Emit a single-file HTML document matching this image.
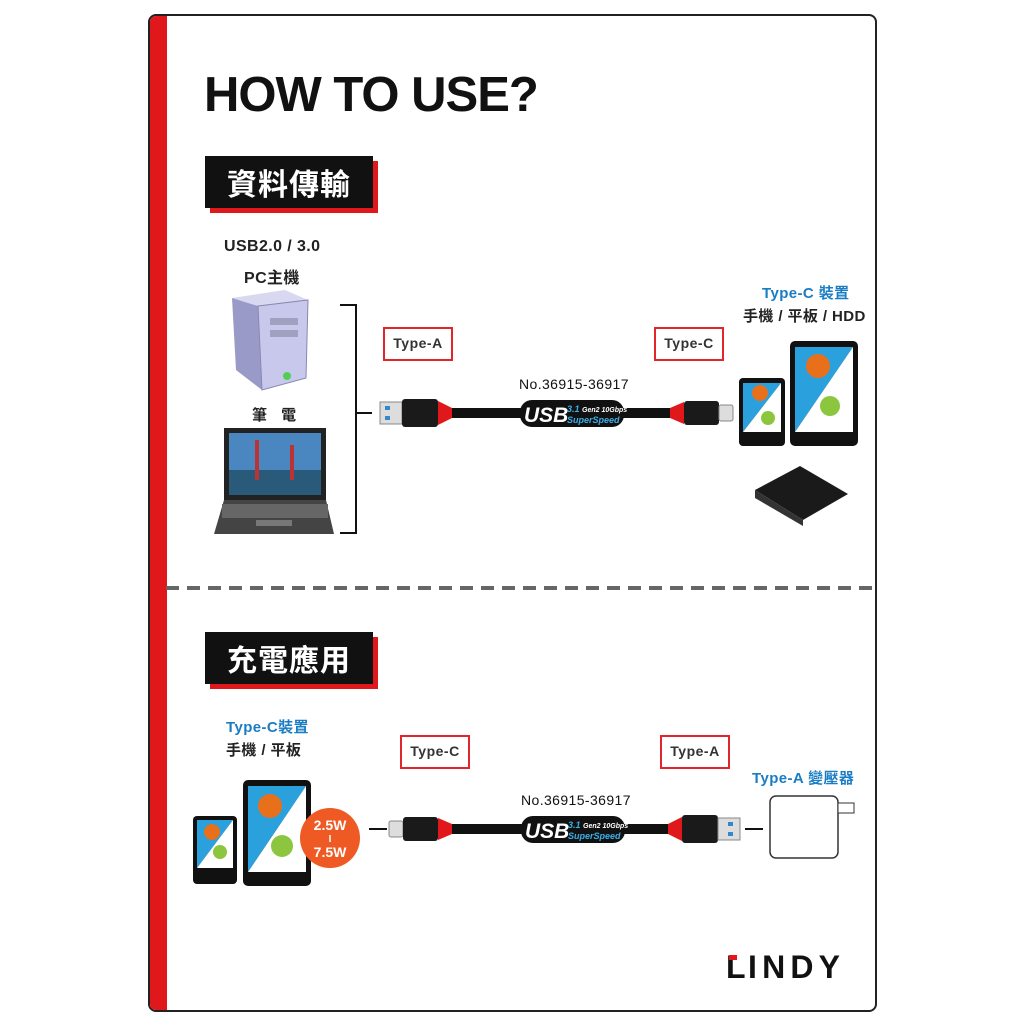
<!DOCTYPE html>
<html><head><meta charset="utf-8"><style>
body{margin:0;width:1024px;height:1024px;background:#fff;position:relative;overflow:hidden;font-family:"Liberation Sans","Noto Sans CJK TC",sans-serif;}
.a{position:absolute}
.lbl{position:absolute;background:#111;color:#fff;font-weight:bold;font-size:30px;box-shadow:5px 5px 0 #e0181b;text-align:center;line-height:52px;font-family:"Noto Sans CJK TC",sans-serif;letter-spacing:1px}
.t{position:absolute;font-weight:bold;font-size:15px;color:#222;font-family:"Liberation Sans","Noto Sans CJK TC",sans-serif;white-space:nowrap;letter-spacing:0.4px}
.box{position:absolute;border:2px solid #e0262a;font-weight:bold;font-size:14px;color:#333;text-align:center;line-height:28px;letter-spacing:0.5px}
.blue{color:#1a7dc3}
</style></head><body>
<div class="a" style="left:148px;top:14px;width:725px;height:994px;border:2px solid #222;border-radius:8px;overflow:hidden">
 <div class="a" style="left:0;top:0;width:17px;height:100%;background:#e0181b"></div>
</div>
<div class="a" style="left:204px;top:67px;font-size:49px;font-weight:900;color:#111;letter-spacing:-1px">HOW TO USE?</div>
<div class="lbl" style="left:205px;top:156px;width:168px;height:52px">資料傳輸</div>
<div class="lbl" style="left:205px;top:632px;width:168px;height:52px">充電應用</div>
<div class="a" style="left:166px;top:586px;width:706px;height:4px;background:repeating-linear-gradient(90deg,#666 0 13px,transparent 13px 21px)"></div>

<div class="t" style="left:224px;top:238px;font-size:16px">USB2.0 / 3.0</div>
<div class="t" style="left:244px;top:264px;font-size:16px">PC主機</div>
<div class="t" style="left:252px;top:404px">筆&nbsp;&nbsp;&nbsp;電</div>
<div class="t blue" style="left:762px;top:282px">Type-C 裝置</div>
<div class="t" style="left:743px;top:305px">手機 / 平板 / HDD</div>
<div class="box" style="left:383px;top:327px;width:66px;height:30px">Type-A</div>
<div class="box" style="left:654px;top:327px;width:66px;height:30px">Type-C</div>
<div class="t" style="left:519px;top:376px;font-weight:normal;font-size:14px;color:#111">No.36915-36917</div>

<div class="t blue" style="left:226px;top:716px">Type-C裝置</div>
<div class="t" style="left:226px;top:739px">手機 / 平板</div>
<div class="box" style="left:400px;top:735px;width:66px;height:30px">Type-C</div>
<div class="box" style="left:660px;top:735px;width:66px;height:30px">Type-A</div>
<div class="t blue" style="left:752px;top:767px">Type-A 變壓器</div>
<div class="t" style="left:521px;top:792px;font-weight:normal;font-size:14px;color:#111">No.36915-36917</div>

<svg class="a" style="left:0;top:0" width="1024" height="1024">
 <path d="M340 305 H356 V533 H340" fill="none" stroke="#111" stroke-width="2"/>
 <line x1="356" y1="413" x2="372" y2="413" stroke="#111" stroke-width="2"/>
 <polygon points="232,298 285,290 308,300 258,306" fill="#d8d8f0"/>
 <polygon points="232,298 258,306 262,390 236,370" fill="#9a9ac8"/>
 <polygon points="258,306 308,300 306,378 262,390" fill="#c8c8ec" stroke="#8888b0"/>
 <rect x="270" y="318" width="28" height="7" fill="#a0a0c0"/><rect x="270" y="330" width="28" height="7" fill="#a0a0c0"/>
 <circle cx="287" cy="376" r="4" fill="#5c5"/>
 <rect x="224" y="428" width="102" height="72" fill="#222"/>
 <rect x="229" y="433" width="92" height="62" fill="#4a86c0"/>
 <rect x="229" y="470" width="92" height="25" fill="#2a5a7a"/>
 <rect x="255" y="440" width="4" height="40" fill="#b33"/><rect x="290" y="445" width="4" height="35" fill="#b33"/>
 <polygon points="224,500 326,500 334,534 214,534" fill="#444"/>
 <rect x="222" y="504" width="106" height="14" fill="#666"/>
 <rect x="256" y="520" width="36" height="6" fill="#777"/>
 <rect x="380" y="402" width="22" height="22" fill="#ddd" stroke="#888"/>
 <rect x="385" y="406" width="5" height="4" fill="#38c"/><rect x="385" y="416" width="5" height="4" fill="#38c"/>
 <rect x="402" y="399" width="36" height="28" rx="3" fill="#1a1a1a"/>
 <polygon points="438,401 452,408 452,418 438,425" fill="#e0181b"/>
 <rect x="452" y="408" width="218" height="10" fill="#111"/>
 <rect x="520" y="400" width="104" height="27" rx="12" fill="#111"/>
 <text x="524" y="422" font-family="Liberation Sans" font-weight="bold" font-style="italic" font-size="21" fill="#fff">USB</text>
 <text x="567" y="412" font-family="Liberation Sans" font-weight="bold" font-style="italic" font-size="9" fill="#3ab0e8">3.1 <tspan fill="#fff" font-size="7">Gen2 10Gbps</tspan></text>
 <text x="567" y="423" font-family="Liberation Sans" font-weight="bold" font-style="italic" font-size="9" fill="#3ab0e8">SuperSpeed</text>
 <polygon points="670,408 684,402 684,424 670,418" fill="#e0181b"/>
 <rect x="684" y="401" width="35" height="24" rx="3" fill="#1a1a1a"/>
 <rect x="719" y="405" width="14" height="16" rx="2" fill="#ddd" stroke="#888"/>
 <line x1="369" y1="829" x2="387" y2="829" stroke="#111" stroke-width="2"/>
 <rect x="389" y="821" width="14" height="16" rx="2" fill="#ddd" stroke="#888"/>
 <rect x="403" y="817" width="35" height="24" rx="3" fill="#1a1a1a"/>
 <polygon points="438,818 452,824 452,834 438,840" fill="#e0181b"/>
 <rect x="452" y="824" width="216" height="10" fill="#111"/>
 <rect x="521" y="816" width="104" height="27" rx="12" fill="#111"/>
 <text x="525" y="838" font-family="Liberation Sans" font-weight="bold" font-style="italic" font-size="21" fill="#fff">USB</text>
 <text x="568" y="828" font-family="Liberation Sans" font-weight="bold" font-style="italic" font-size="9" fill="#3ab0e8">3.1 <tspan fill="#fff" font-size="7">Gen2 10Gbps</tspan></text>
 <text x="568" y="839" font-family="Liberation Sans" font-weight="bold" font-style="italic" font-size="9" fill="#3ab0e8">SuperSpeed</text>
 <polygon points="668,824 682,817 682,841 668,834" fill="#e0181b"/>
 <rect x="682" y="815" width="36" height="28" rx="3" fill="#1a1a1a"/>
 <rect x="718" y="818" width="22" height="22" fill="#ddd" stroke="#888"/>
 <rect x="728" y="822" width="5" height="4" fill="#38c"/><rect x="728" y="832" width="5" height="4" fill="#38c"/>
 <line x1="745" y1="829" x2="763" y2="829" stroke="#111" stroke-width="2"/>
 <g>
  <rect x="739" y="378" width="46" height="68" rx="4" fill="#111"/>
  <polygon points="743,383 781,383 743,432" fill="#2aa0dc"/><polygon points="781,383 781,432 743,432" fill="#fff"/>
  <rect x="790" y="341" width="68" height="105" rx="5" fill="#111"/>
  <polygon points="795,347 853,347 795,432" fill="#2aa0dc"/><polygon points="853,347 853,432 795,432" fill="#fff"/>
  <circle cx="818" cy="366" r="12" fill="#e8701a"/><circle cx="830" cy="406" r="10" fill="#8cc63f"/>
  <circle cx="760" cy="393" r="8" fill="#e8701a"/><circle cx="768" cy="418" r="7" fill="#8cc63f"/>
  <polygon points="755,490 800,466 848,494 803,520" fill="#1a1a1a"/>
  <polygon points="755,490 803,520 803,526 755,498" fill="#333"/>
 </g>
 <g>
  <rect x="193" y="816" width="44" height="68" rx="4" fill="#111"/>
  <polygon points="197,820 233,820 197,868" fill="#2aa0dc"/><polygon points="233,820 233,868 197,868" fill="#fff"/>
  <circle cx="212" cy="832" r="8" fill="#e8701a"/><circle cx="220" cy="852" r="7" fill="#8cc63f"/>
  <rect x="243" y="780" width="68" height="106" rx="5" fill="#111"/>
  <polygon points="248,786 306,786 248,872" fill="#2aa0dc"/><polygon points="306,786 306,872 248,872" fill="#fff"/>
  <circle cx="270" cy="806" r="12" fill="#e8701a"/><circle cx="282" cy="846" r="11" fill="#8cc63f"/>
  <circle cx="330" cy="838" r="30" fill="#ef5a24"/>
  <text x="330" y="830" text-anchor="middle" font-family="Liberation Sans" font-weight="bold" font-size="14" fill="#fff">2.5W</text>
  <text x="330" y="842" text-anchor="middle" font-family="Liberation Sans" font-weight="bold" font-size="10" fill="#fff">I</text>
  <text x="330" y="857" text-anchor="middle" font-family="Liberation Sans" font-weight="bold" font-size="14" fill="#fff">7.5W</text>
  <rect x="770" y="796" width="68" height="62" rx="6" fill="#fff" stroke="#333" stroke-width="1.5"/>
  <rect x="838" y="803" width="16" height="10" fill="#fff" stroke="#333"/>
 </g>
 <text x="726" y="978" font-family="Liberation Sans" font-weight="900" font-size="32" fill="#111">L</text>
 <rect x="729" y="955" width="8" height="5" fill="#e0181b"/>
 <text x="748" y="978" font-family="Liberation Sans" font-weight="900" font-size="32" fill="#111" letter-spacing="2" textLength="94">INDY</text>
</svg>
</body></html>
